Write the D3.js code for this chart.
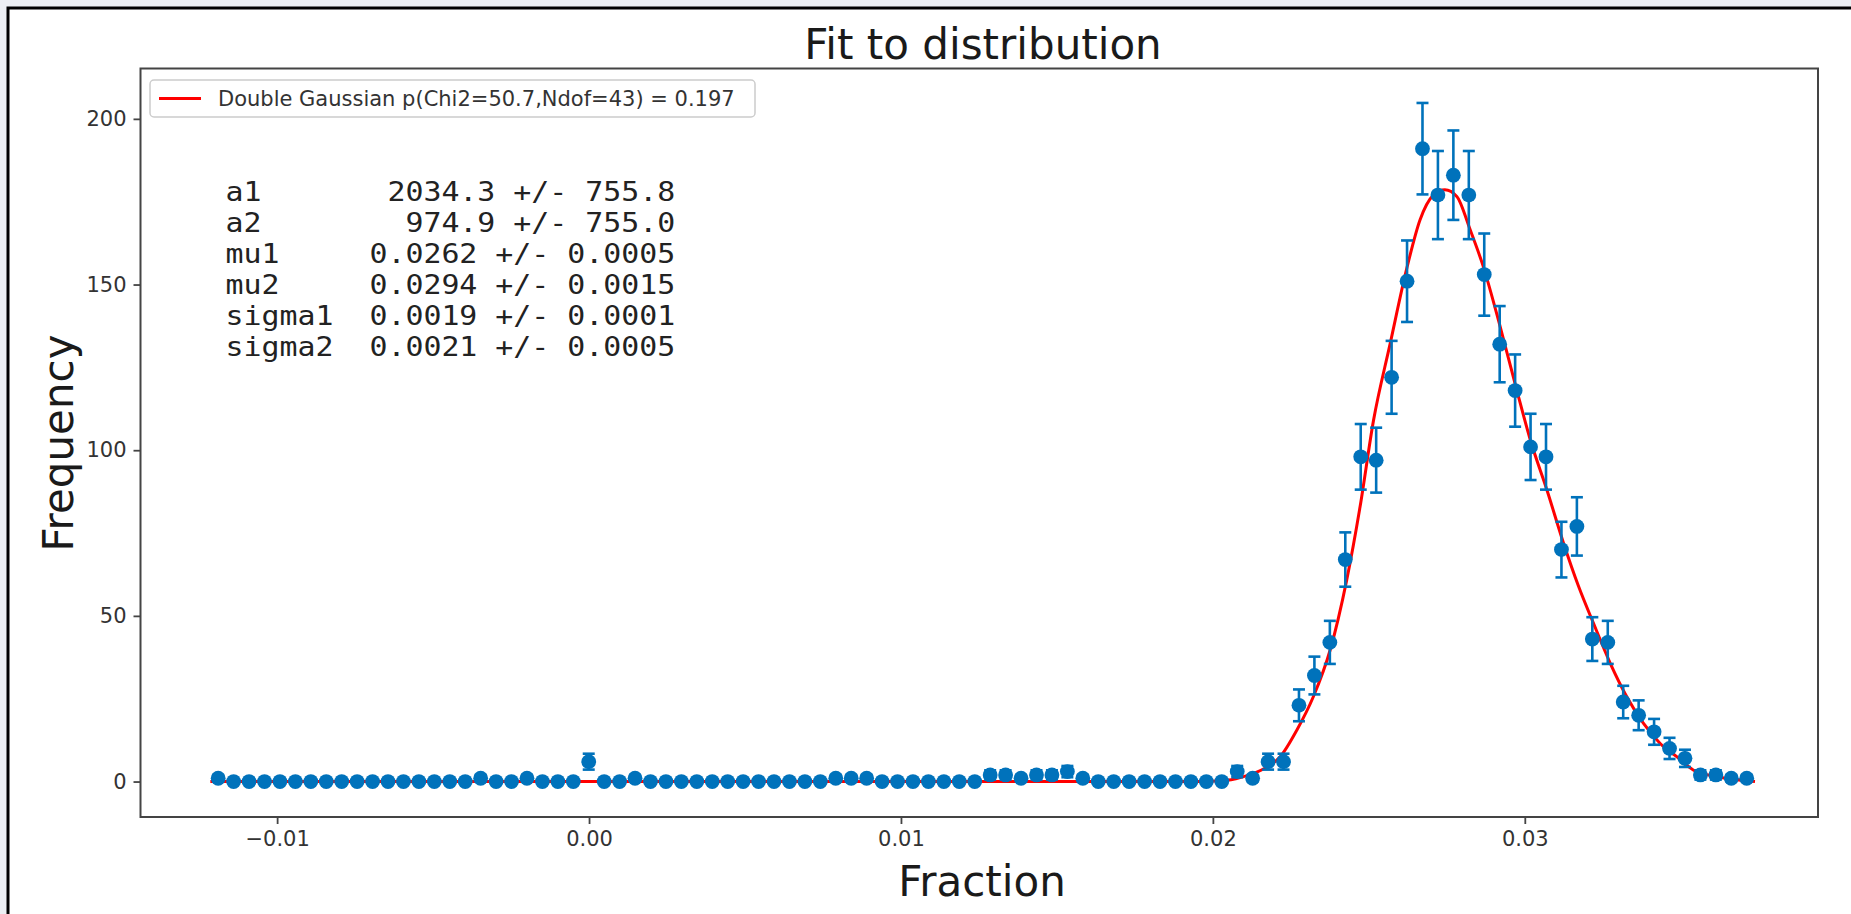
<!DOCTYPE html>
<html>
<head>
<meta charset="utf-8">
<script src="https://cdn.jsdelivr.net/npm/d3@7"></script>
<style>
  body { margin: 0; background: #eceff3; }
  svg { display: block; }
  text { font-family: "DejaVu Sans", sans-serif; }
</style>
</head>
<body>
<svg id="chart"></svg>
<script>
// histogram bin centres (Fraction) and counts
var fractions = [
  -0.01189, -0.011395, -0.0109, -0.010405, -0.00991, -0.009415, -0.00892, -0.008425, -0.00793, -0.007435,
  -0.00694, -0.006445, -0.00595, -0.005455, -0.00496, -0.004465, -0.00397, -0.003475, -0.00298, -0.002485,
  -0.00199, -0.001495, -0.001, -0.000505, -0.00001, 0.000485, 0.00098, 0.001475, 0.00197, 0.002465,
  0.00296, 0.003455, 0.00395, 0.004445, 0.00494, 0.005435, 0.00593, 0.006425, 0.00692, 0.007415,
  0.00791, 0.008405, 0.0089, 0.009395, 0.00989, 0.010385, 0.01088, 0.011375, 0.01187, 0.012365,
  0.01286, 0.013355, 0.01385, 0.014345, 0.01484, 0.015335, 0.01583, 0.016325, 0.01682, 0.017315,
  0.01781, 0.018305, 0.0188, 0.019295, 0.01979, 0.020285, 0.02078, 0.021275, 0.02177, 0.022265,
  0.02276, 0.023255, 0.02375, 0.024245, 0.02474, 0.025235, 0.02573, 0.026225, 0.02672, 0.027215,
  0.02771, 0.028205, 0.0287, 0.029195, 0.02969, 0.030185, 0.03068, 0.031175, 0.03167, 0.032165,
  0.03266, 0.033155, 0.03365, 0.034145, 0.03464, 0.035135, 0.03563, 0.036125, 0.03662, 0.037115
];
var counts = [
  1, 0, 0, 0, 0, 0, 0, 0, 0, 0,
  0, 0, 0, 0, 0, 0, 0, 1, 0, 0,
  1, 0, 0, 0, 6, 0, 0, 1, 0, 0,
  0, 0, 0, 0, 0, 0, 0, 0, 0, 0,
  1, 1, 1, 0, 0, 0, 0, 0, 0, 0,
  2, 2, 1, 2, 2, 3, 1, 0, 0, 0,
  0, 0, 0, 0, 0, 0, 3, 1, 6, 6,
  23, 32, 42, 67, 98, 97, 122, 151, 191, 177,
  183, 177, 153, 132, 118, 101, 98, 70, 77, 43,
  42, 24, 20, 15, 10, 7, 2, 2, 1, 1
];
var errors = [
  1.0, 0, 0, 0, 0, 0, 0, 0, 0, 0,
  0, 0, 0, 0, 0, 0, 0, 1.0, 0, 0,
  1.0, 0, 0, 0, 2.4, 0, 0, 1.0, 0, 0,
  0, 0, 0, 0, 0, 0, 0, 0, 0, 0,
  1.0, 1.0, 1.0, 0, 0, 0, 0, 0, 0, 0,
  1.4, 1.4, 1.0, 1.4, 1.4, 1.7, 1.0, 0, 0, 0,
  0, 0, 0, 0, 0, 0, 1.7, 1.0, 2.4, 2.4,
  4.8, 5.7, 6.5, 8.2, 9.9, 9.8, 11.0, 12.3, 13.8, 13.3,
  13.5, 13.3, 12.4, 11.5, 10.9, 10.0, 9.9, 8.4, 8.8, 6.6,
  6.5, 4.9, 4.5, 3.9, 3.2, 2.6, 1.4, 1.4, 1.0, 1.0
];

// double gaussian fit curve
var fitX = [-0.01214, 0.0195, 0.02045, 0.02109, 0.02162, 0.02216, 0.02269, 0.02322, 0.02376, 0.02429,
  0.02472, 0.02515, 0.02568, 0.02622, 0.02664, 0.02707, 0.02744, 0.02782, 0.02825, 0.02867,
  0.02921, 0.02974, 0.03018, 0.03071, 0.03124, 0.03172, 0.0322, 0.03274, 0.03327, 0.0338,
  0.03434, 0.03487, 0.0354, 0.03615, 0.03738];
var fitY = [0, 0, 0.4, 1.8, 3.8, 7.5, 15.5, 25.6, 39.7, 60.8,
  83, 109, 132, 155, 169.5, 177, 178.6, 176.6, 166.5, 155.4,
  137.3, 118.2, 103, 88, 72, 59, 47.8, 35.7, 25.6, 17.6,
  11.5, 7.5, 3.5, 1.5, 0];

var xTicks = [-0.01, 0.00, 0.01, 0.02, 0.03];
var yTicks = [0, 50, 100, 150, 200];

var fitLabel = "Double Gaussian p(Chi2=50.7,Ndof=43) = 0.197";
var paramLines = [
  "a1       2034.3 +/- 755.8",
  "a2        974.9 +/- 755.0",
  "mu1     0.0262 +/- 0.0005",
  "mu2     0.0294 +/- 0.0015",
  "sigma1  0.0019 +/- 0.0001",
  "sigma2  0.0021 +/- 0.0005"
];

var width = 1851, height = 914;
var plot = { left: 140.5, right: 1818, top: 68.5, bottom: 817 };
var blue = "#0072bb";

var svg = d3.select("#chart")
        .attr("width", width)
        .attr("height", height);

// white page with the black frame of the screenshot
svg.append("rect")
        .attr("x", 8).attr("y", 8)
        .attr("width", 1900).attr("height", 1000)
        .attr("fill", "#fff")
        .attr("stroke", "#000")
        .attr("stroke-width", 3);

var x = d3.scaleLinear().domain([-0.01438, 0.0394]).range([plot.left, plot.right]);
var y = d3.scaleLinear().domain([-10.7, 215.2]).range([plot.bottom, plot.top]);

// axes
var xAxis = svg.append("g")
        .attr("transform", "translate(0," + plot.bottom + ")")
        .call(d3.axisBottom(x).tickValues(xTicks).tickFormat(d3.format(".2f"))
                .tickSize(7).tickPadding(7).tickSizeOuter(0));
var yAxis = svg.append("g")
        .attr("transform", "translate(" + plot.left + ",0)")
        .call(d3.axisLeft(y).tickValues(yTicks).tickFormat(d3.format("d"))
                .tickSize(7).tickPadding(7).tickSizeOuter(0));

[xAxis, yAxis].forEach(function (g) {
        g.select(".domain").remove();
        g.selectAll(".tick line").attr("stroke", "#444").attr("stroke-width", 1.8);
        g.selectAll(".tick text")
                .attr("fill", "#333")
                .style("font-family", "DejaVu Sans")
                .style("font-size", "21px");
});

// fit line, under the markers
var line = d3.line()
        .x(function (d) { return x(d[0]); })
        .y(function (d) { return y(d[1]); })
        .curve(d3.curveMonotoneX);

svg.append("path")
        .datum(d3.zip(fitX, fitY))
        .attr("d", line)
        .attr("fill", "none")
        .attr("stroke", "#ff0000")
        .attr("stroke-width", 3);

// error bars
var pts = fractions.map(function (f, i) {
        return { x: f, n: counts[i], e: errors[i] };
});
var bars = svg.append("g")
        .attr("stroke", blue)
        .attr("stroke-width", 2.6);
var withErr = pts.filter(function (d) { return d.e > 0; });
bars.selectAll("line.v")
        .data(withErr)
        .enter()
        .append("line")
        .attr("x1", function (d) { return x(d.x); })
        .attr("x2", function (d) { return x(d.x); })
        .attr("y1", function (d) { return y(d.n - d.e); })
        .attr("y2", function (d) { return y(d.n + d.e); });
[-1, 1].forEach(function (s) {
        bars.selectAll("line.c" + s)
                .data(withErr)
                .enter()
                .append("line")
                .attr("x1", function (d) { return x(d.x) - 6; })
                .attr("x2", function (d) { return x(d.x) + 6; })
                .attr("y1", function (d) { return y(d.n + s * d.e); })
                .attr("y2", function (d) { return y(d.n + s * d.e); });
});

// markers
svg.append("g")
        .selectAll("circle")
        .data(pts)
        .enter()
        .append("circle")
        .attr("cx", function (d) { return x(d.x); })
        .attr("cy", function (d) { return y(d.n); })
        .attr("r", 7.4)
        .attr("fill", blue);

// spines
svg.append("rect")
        .attr("x", plot.left).attr("y", plot.top)
        .attr("width", plot.right - plot.left)
        .attr("height", plot.bottom - plot.top)
        .attr("fill", "none")
        .attr("stroke", "#444")
        .attr("stroke-width", 2);

// legend
var legend = svg.append("g").attr("transform", "translate(150,80)");
legend.append("rect")
        .attr("width", 605).attr("height", 37).attr("rx", 4)
        .attr("fill", "#fff").attr("fill-opacity", 0.8)
        .attr("stroke", "#cccccc").attr("stroke-width", 1.5);
legend.append("line")
        .attr("x1", 9).attr("x2", 51)
        .attr("y1", 18.5).attr("y2", 18.5)
        .attr("stroke", "#ff0000").attr("stroke-width", 3);
legend.append("text")
        .attr("x", 68).attr("y", 18.5).attr("dy", "0.35em")
        .attr("fill", "#333")
        .style("font-size", "21px")
        .text(fitLabel);

// fit parameters (monospace, a little wider than the stock glyphs)
svg.append("g")
        .attr("transform", "translate(225.5,0) scale(1.15,1)")
        .selectAll("text")
        .data(paramLines)
        .enter()
        .append("text")
        .attr("x", 0)
        .attr("y", function (d, i) { return 192.4 + i * 31; })
        .attr("dy", "0.35em")
        .attr("fill", "#222")
        .style("font-family", "DejaVu Sans Mono")
        .style("font-size", "26px")
        .style("white-space", "pre")
        .text(function (d) { return d; });

// titles
svg.append("text")
        .attr("x", 983).attr("y", 59)
        .attr("text-anchor", "middle")
        .attr("fill", "#1a1a1a")
        .style("font-size", "42px")
        .text("Fit to distribution");
svg.append("text")
        .attr("x", 982).attr("y", 896)
        .attr("text-anchor", "middle")
        .attr("fill", "#1a1a1a")
        .style("font-size", "42px")
        .text("Fraction");
svg.append("text")
        .attr("transform", "translate(73,443) rotate(-90)")
        .attr("text-anchor", "middle")
        .attr("fill", "#1a1a1a")
        .style("font-size", "42px")
        .text("Frequency");
</script>
</body>
</html>
